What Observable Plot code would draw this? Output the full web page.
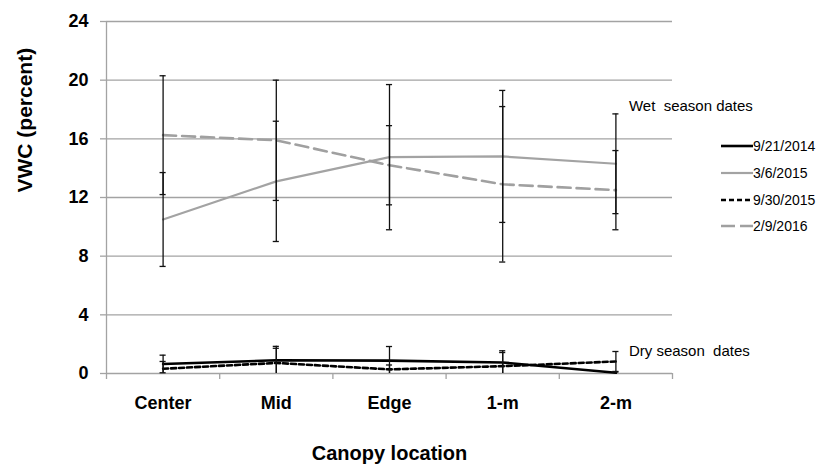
<!DOCTYPE html>
<html>
<head>
<meta charset="utf-8">
<script src="https://cdn.jsdelivr.net/npm/d3@7"></script>
<script src="https://cdn.jsdelivr.net/npm/@observablehq/plot@0.6"></script>
<style>
  html, body { margin: 0; padding: 0; background: #fff; }
  #wrap { position: relative; width: 818px; height: 468px; font-family: "Liberation Sans", Arial, sans-serif; }
  #legend { position: absolute; left: 721px; top: 133px; }
  .row { display: flex; align-items: center; height: 26.7px; font-size: 14px; color: #000; }
  .row svg { display: block; }
</style>
</head>
<body>
<div id="wrap"><div id="legend"></div></div>
<script>
// ---- data ----
const categories = ["Center", "Mid", "Edge", "1-m", "2-m"];
const seriesNames = ["9/21/2014", "3/6/2015", "9/30/2015", "2/9/2016"];
const vwc_20140921 = [0.65, 0.9, 0.88, 0.75, 0.05];
const err_20140921 = [0.6, 0.95, 0.96, 0.8, 0.05];
const vwc_20150306 = [10.5, 13.1, 14.75, 14.8, 14.3];
const err_20150306 = [3.2, 4.1, 4.95, 4.5, 3.4];
const vwc_20150930 = [0.32, 0.72, 0.28, 0.5, 0.82];
const err_20150930 = [0.5, 1.0, 0.3, 0.93, 0.68];
const vwc_20160209 = [16.25, 15.9, 14.2, 12.9, 12.5];
const err_20160209 = [4.05, 4.1, 2.7, 5.3, 2.7];
const yTicks = [0, 4, 8, 12, 16, 20, 24];
const notes = [
  {text: "Wet  season dates", loc: "2-m", y: 18.25},
  {text: "Dry season  dates", loc: "2-m", y: 1.55}
];

// ---- styles per series ----
const styles = {
  "9/21/2014": {stroke: "#000000", strokeWidth: 2.6, dash: null},
  "3/6/2015":  {stroke: "#a3a3a3", strokeWidth: 2.2, dash: null},
  "9/30/2015": {stroke: "#000000", strokeWidth: 2.6, dash: "5,3"},
  "2/9/2016":  {stroke: "#a0a0a0", strokeWidth: 2.6, dash: "13,6"}
};
const valueSets = [
  [vwc_20140921, err_20140921],
  [vwc_20150306, err_20150306],
  [vwc_20150930, err_20150930],
  [vwc_20160209, err_20160209]
];
const rows = [];
seriesNames.forEach((s, k) => {
  const [vals, errs] = valueSets[k];
  categories.forEach((c, i) => {
    rows.push({series: s, loc: c, i, v: vals[i], lo: Math.max(0, vals[i] - errs[i]), hi: Math.min(24, vals[i] + errs[i])});
  });
});
const xi = d => categories.indexOf(d.loc) + 0.5;
const cap = 0.027;
const grid = "#a3a3a3";

const lineMarks = seriesNames.map(s => Plot.line(rows.filter(r => r.series === s), {
  x: xi, y: "v", stroke: styles[s].stroke, strokeWidth: styles[s].strokeWidth,
  strokeDasharray: styles[s].dash || undefined
}));

const chart = Plot.plot({
  width: 818, height: 468,
  marginLeft: 106, marginRight: 146, marginTop: 21, marginBottom: 95,
  x: {type: "linear", domain: [0, categories.length], axis: null},
  y: {domain: [0, 24], axis: null},
  style: {fontFamily: '"Liberation Sans", Arial, sans-serif', background: "white", color: "black", whiteSpace: "pre"},
  marks: [
    Plot.ruleY(yTicks, {stroke: grid, strokeWidth: 1.3}),
    Plot.ruleX([0], {y1: 0, y2: 24, stroke: grid, strokeWidth: 1.3}),
    Plot.axisY(yTicks, {tickSize: 6, tickPadding: 12, stroke: grid, strokeWidth: 1.3, fill: "black", fontSize: 18, fontWeight: "bold", tickFormat: d => String(d)}),
    Plot.axisX(d3.range(categories.length + 1), {tickSize: 6, stroke: grid, strokeWidth: 1.3, tickFormat: () => ""}),
    Plot.axisX(categories.map((c, i) => i + 0.5), {tickSize: 0, tickPadding: 23, fill: "black", fontSize: 18, fontWeight: "bold", tickFormat: d => categories[Math.floor(d)]}),
    ...lineMarks,
    Plot.ruleX(rows, {x: xi, y1: "lo", y2: "hi", stroke: "#111", strokeWidth: 1.3}),
    Plot.ruleY(rows, {y: "hi", x1: d => xi(d) - cap, x2: d => xi(d) + cap, stroke: "#111", strokeWidth: 1.3}),
    Plot.ruleY(rows.filter(r => r.lo > 0), {y: "lo", x1: d => xi(d) - cap, x2: d => xi(d) + cap, stroke: "#111", strokeWidth: 1.3}),
    Plot.text(notes, {x: xi, y: "y", text: "text", dx: 13, textAnchor: "start", fontSize: 15, fill: "black"}),
    Plot.text(["VWC (percent)"], {frameAnchor: "left", dx: -81, dy: -5, rotate: -90, fontSize: 21, fontWeight: "bold", fill: "black"}),
    Plot.text(["Canopy location"], {frameAnchor: "bottom", dy: 86, fontSize: 20, fontWeight: "bold", fill: "black"})
  ]
});
document.getElementById("wrap").prepend(chart);

// ---- legend ----
const legend = document.getElementById("legend");
seriesNames.forEach(s => {
  const st = styles[s];
  const row = document.createElement("div");
  row.className = "row";
  row.innerHTML = `<svg width="32" height="6"><line x1="0" y1="3" x2="32" y2="3" stroke="${st.stroke}" stroke-width="${st.strokeWidth}" ${st.dash ? `stroke-dasharray="${s === "2/9/2016" ? "14,5" : "5,3"}"` : ""}/></svg><span>${s}</span>`;
  legend.appendChild(row);
});
</script>
</body>
</html>
